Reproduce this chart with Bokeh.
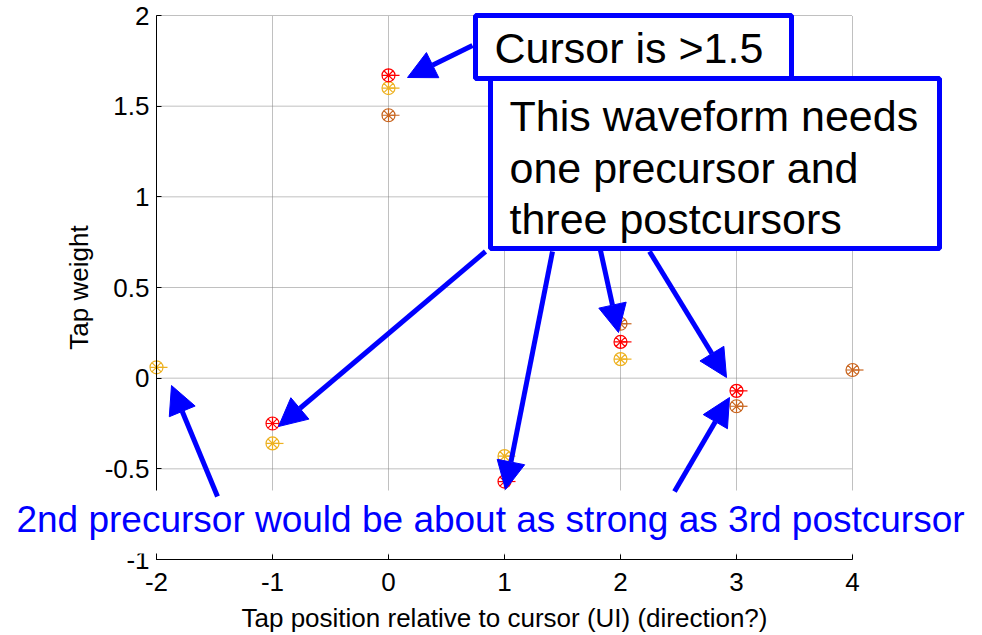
from bokeh.plotting import figure
from bokeh.models import (Label, Arrow, NormalHead, BoxAnnotation, Range1d, FixedTicker,
                          LinearAxis, PrintfTickFormatter)
from bokeh.embed import file_html
from bokeh.resources import INLINE

# ---- data ----
tap_ticks = [-2, -1, 0, 1, 2, 3, 4]
weight_ticks = [-1, -0.5, 0, 0.5, 1, 1.5, 2]

red_pos = [-1, 0, 1, 2, 3]
red_w = [-0.25, 1.67, -0.57, 0.20, -0.07]
gold_pos = [-2, -1, 0, 1, 2]
gold_w = [0.06, -0.36, 1.60, -0.43, 0.105]
brown_pos = [0, 2, 3, 4]
brown_w = [1.45, 0.30, -0.155, 0.045]

FONT = "Liberation Sans"
BLUE = "#0000FF"

# ---- layout geometry (page pixels) ----
W, H = 974, 633
OX, OY = 1, 1                     # page position of the canvas origin
PX_L, PX_R, PY_T, PY_B = 157, 853, 16, 560   # where the axes box sits
X0, X1 = tap_ticks[0], tap_ticks[-1]
Y0, Y1 = weight_ticks[0], weight_ticks[-1]
SX = (PX_R - PX_L) / (X1 - X0)
SY = (PY_B - PY_T) / (Y1 - Y0)

def dx(px):
    return X0 + (px - PX_L) / SX

def dy(py):
    return Y0 + (PY_B - py) / SY

p = figure(width=W, height=H, min_border=0,
           x_range=Range1d(dx(OX), dx(OX + W)), y_range=Range1d(dy(OY + H), dy(OY)),
           x_axis_location=None, y_axis_location=None,
           output_backend="svg", toolbar_location=None)
p.outline_line_color = None
p.background_fill_color = "white"
p.border_fill_color = "white"
p.grid.visible = False

# ---- grid ----
n, m = len(tap_ticks), len(weight_ticks)
p.segment(x0=tap_ticks, y0=[Y0] * n, x1=tap_ticks, y1=[Y1] * n,
          line_color="#808080", line_dash="1 1", line_width=1)
p.segment(x0=[X0] * m, y0=weight_ticks, x1=[X1] * m, y1=weight_ticks,
          line_color="#808080", line_dash="1 1", line_width=1)

# ---- axes ----
xaxis = LinearAxis(fixed_location=Y0, bounds=(X0, X1), ticker=FixedTicker(ticks=tap_ticks),
                   formatter=PrintfTickFormatter(format="%g"),
                   axis_label="Tap position relative to cursor (UI) (direction?)")
yaxis = LinearAxis(fixed_location=X0, bounds=(Y0, Y1), ticker=FixedTicker(ticks=weight_ticks),
                   formatter=PrintfTickFormatter(format="%g"),
                   axis_label="Tap weight")
for ax in (xaxis, yaxis):
    ax.axis_line_color = "black"
    ax.axis_line_width = 1
    ax.major_tick_in = 5
    ax.major_tick_out = 0
    ax.minor_tick_line_color = None
    ax.major_tick_line_color = "black"
    ax.major_label_text_font = FONT
    ax.major_label_text_font_size = "26px"
    ax.major_label_text_color = "black"
    ax.axis_label_text_font = FONT
    ax.axis_label_text_font_size = "26px"
    ax.axis_label_text_font_style = "normal"
    ax.axis_label_text_color = "black"
xaxis.major_label_standoff = 13
yaxis.major_label_standoff = 7
xaxis.axis_label_standoff = 9
yaxis.axis_label_standoff = 8
p.add_layout(xaxis, "below")
p.add_layout(yaxis, "left")

# ---- data markers ----
def draw_series(xs, ys, color):
    p.ray(xs, ys, length=11, angle=0, length_units="screen", line_color=color, line_width=1.2)
    p.scatter(xs, ys, marker="circle_x", size=13, line_color=color, fill_color=None, line_width=1.2)
    p.scatter(xs, ys, marker="cross", size=13, line_color=color, line_width=1.2)

draw_series(brown_pos, brown_w, "#C8641E")
draw_series(gold_pos, gold_w, "#EDB120")
draw_series(red_pos, red_w, "#FF0000")

# ---- annotations ----
# white band behind the bottom note (covers grid and axis there)
p.add_layout(BoxAnnotation(left=dx(0), right=dx(990), top=dy(491), bottom=dy(554),
                           fill_color="white", fill_alpha=1, line_color=None))
p.add_layout(Label(x=dx(491), y=dy(533 - 13),
                   text="2nd precursor would be about as strong as 3rd postcursor",
                   text_font=FONT, text_font_size="37px", text_color=BLUE,
                   text_align="center", text_baseline="alphabetic"))

box1 = BoxAnnotation(left=dx(476), right=dx(792), top=dy(16), bottom=dy(79),
                     fill_color="white", fill_alpha=1, line_color=BLUE, line_alpha=1, line_width=5)
box2 = BoxAnnotation(left=dx(491), right=dx(940), top=dy(79), bottom=dy(249),
                     fill_color="white", fill_alpha=1, line_color=BLUE, line_alpha=1, line_width=5)
p.add_layout(box1)
p.add_layout(box2)

SHIFT = 15
p.add_layout(Label(x=dx(495), y=dy(63 - SHIFT), text="Cursor is >1.5", text_font=FONT,
                   text_font_size="43px", text_color="black", text_baseline="alphabetic"))
for txt, base in (("This waveform needs", 131), ("one precursor and", 183), ("three postcursors", 234)):
    p.add_layout(Label(x=dx(510), y=dy(base - SHIFT), text=txt, text_font=FONT,
                       text_font_size="43px", text_color="black", text_baseline="alphabetic"))

arrows = [((473, 46), (408, 78)),
          ((486, 252), (279, 427)),
          ((553, 252), (506, 490)),
          ((601, 251), (619, 333)),
          ((650, 252), (727, 378)),
          ((218, 497), (172, 386)),
          ((675, 492), (730, 398))]
for (x0, y0), (x1, y1) in arrows:
    p.add_layout(Arrow(end=NormalHead(size=28, fill_color=BLUE, line_color=BLUE),
                       x_start=dx(x0), y_start=dy(y0), x_end=dx(x1), y_end=dy(y1),
                       line_color=BLUE, line_width=5))

open("out.html", "w").write(file_html(p, INLINE))
